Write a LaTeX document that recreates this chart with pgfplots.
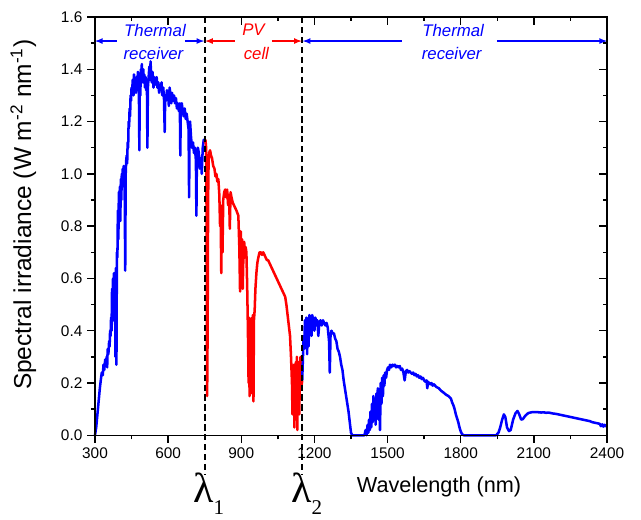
\documentclass[border=0pt]{standalone}
\usepackage{fontspec}
\setmainfont{Liberation Sans}
\newfontfamily\lamfont{Liberation Serif}
\usepackage{pgfplots}
\pgfplotsset{compat=1.18}

\begin{document}
\begin{tikzpicture}
\begin{axis}[
    name=main,
    width=366pt, height=299pt,
    scale only axis,
    xmin=300, xmax=2400, ymin=0, ymax=1.6,
    clip=false,
    axis line style={line width=1.1pt},
    xtick={300,600,...,2400},
    ytick={0,0.2,...,1.6},
    minor x tick num=1, minor y tick num=1,
    xtick pos=bottom, ytick pos=left,
    tick align=outside,
    major tick length=5.5pt, minor tick length=3pt,
    every tick/.style={black, line width=1.1pt},
    ticklabel style={font=\fontsize{11}{13}\selectfont},
    /pgf/number format/assume math mode=true,
    x tick label style={/pgf/number format/1000 sep={}},
    y tick label style={/pgf/number format/.cd, fixed, fixed zerofill, precision=1},
]
\path (rel axis cs:-0.1855,-0.1838) rectangle (rel axis cs:1.0664,1.0406);

% thermal receiver, short wavelengths
\addplot[blue, line width=1.8pt, line join=round] coordinates {
(300,0.00) (305,0.03) (310,0.08) (315,0.13) (320,0.18) (325,0.22) (328,0.24) (332,0.23)
(335,0.27) (338,0.25) (342,0.29) (345,0.28) (348,0.30) (350,0.26) (352,0.33) (355,0.31)
(358,0.36) (360,0.34) (362,0.40) (364,0.38) (366,0.45) (368,0.40) (370,0.56) (372,0.48)
(374,0.60) (376,0.44) (378,0.62) (380,0.50) (382,0.60) (384,0.30) (386,0.64) (388,0.27)
(390,0.70) (392,0.68) (394,0.86) (396,0.75) (398,0.93) (400,0.88) (402,0.95) (404,0.82)
(406,0.98) (408,0.90) (410,1.00) (412,0.95) (414,1.02) (416,0.98) (418,1.03) (420,0.99)
(422,0.92) (424,0.63) (426,1.00) (428,1.05) (430,1.07) (432,1.04) (434,1.12) (436,1.10)
(438,1.20) (440,1.18) (442,1.25) (444,1.22) (446,1.30) (448,1.28) (450,1.33) (452,1.31)
(455,1.36) (458,1.30) (460,1.38) (462,1.33) (465,1.36) (468,1.31) (470,1.37) (473,1.32)
(476,1.39) (478,1.35) (480,1.34) (482,1.09) (484,1.36) (486,1.30) (488,1.40) (490,1.36)
(492,1.42) (494,1.38) (496,1.35) (498,1.40) (500,1.36) (502,1.38) (505,1.33) (508,1.37)
(510,1.32) (513,1.35) (515,1.10) (517,1.33) (520,1.37) (523,1.41) (526,1.36) (528,1.43)
(530,1.38) (533,1.35) (536,1.39) (540,1.33) (543,1.37) (546,1.34) (550,1.36) (553,1.37)
(556,1.33) (560,1.35) (563,1.31) (566,1.34) (570,1.32) (573,1.35) (576,1.30) (580,1.33)
(583,1.29) (586,1.16) (588,1.30) (592,1.28) (595,1.32) (598,1.29) (600,1.30) (603,1.26)
(606,1.33) (610,1.30) (613,1.27) (616,1.31) (620,1.28) (624,1.30) (628,1.27) (632,1.29)
(636,1.25) (640,1.27) (644,1.24) (648,1.27) (650,1.07) (652,1.26) (656,1.27) (660,1.24)
(664,1.22) (668,1.25) (672,1.21) (676,1.23) (680,1.20) (684,1.17) (686,0.91) (688,1.15)
(690,1.20) (694,1.14) (698,1.10) (702,1.12) (706,1.08) (710,1.10) (714,1.05) (716,0.84)
(718,1.06) (722,1.10) (726,1.08) (730,1.02) (734,1.06) (738,1.00) (742,1.10) (746,1.13)
(750,1.12)
};

% PV cell
\addplot[red, line width=1.8pt, line join=round] coordinates {
(750,1.12) (753,1.13) (756,1.10) (758,0.80) (760,0.15) (762,0.40) (764,0.90) (766,1.05)
(768,1.08) (772,1.09) (776,1.07) (780,1.06) (785,1.03) (790,1.02) (794,0.99) (798,1.00)
(802,0.97) (806,0.98) (810,0.92) (813,0.80) (815,0.88) (818,0.62) (820,0.85) (823,0.70)
(826,0.90) (830,0.93) (834,0.94) (838,0.91) (842,0.94) (846,0.88) (850,0.92) (853,0.79)
(856,0.93) (860,0.91) (865,0.89) (870,0.88) (875,0.87) (880,0.86) (884,0.85) (888,0.84)
(892,0.72) (895,0.55) (898,0.78) (900,0.62) (903,0.75) (906,0.56) (909,0.70) (912,0.74)
(915,0.68) (918,0.72) (921,0.70) (924,0.58) (927,0.42) (930,0.20) (932,0.45) (934,0.15)
(936,0.30) (938,0.43) (940,0.16) (942,0.40) (944,0.45) (946,0.30) (948,0.46) (950,0.13)
(952,0.44) (955,0.48) (958,0.56) (962,0.62) (966,0.66) (970,0.68) (975,0.70) (980,0.70)
(985,0.69) (990,0.70) (995,0.69) (1000,0.68) (1005,0.67) (1010,0.67) (1015,0.66) (1020,0.65)
(1025,0.64) (1030,0.63) (1035,0.62) (1040,0.61) (1045,0.60) (1050,0.59) (1055,0.58) (1060,0.57)
(1065,0.56) (1070,0.55) (1075,0.54) (1080,0.53) (1085,0.50) (1090,0.46) (1095,0.42) (1100,0.38)
(1104,0.30) (1108,0.20) (1110,0.08) (1112,0.25) (1114,0.12) (1116,0.27) (1118,0.03) (1120,0.24)
(1122,0.06) (1124,0.28) (1126,0.10) (1128,0.30) (1130,0.02) (1132,0.26) (1134,0.15) (1136,0.28)
(1138,0.08) (1140,0.22) (1143,0.30) (1146,0.18) (1150,0.21)
};

% thermal receiver, long wavelengths
\addplot[blue, line width=1.8pt, line join=round] coordinates {
(1150,0.21) (1153,0.30) (1156,0.38) (1158,0.33) (1161,0.44) (1164,0.36) (1167,0.45) (1170,0.31)
(1173,0.43) (1176,0.34) (1179,0.46) (1182,0.40) (1185,0.45) (1188,0.38) (1191,0.46) (1194,0.42)
(1197,0.45) (1200,0.40) (1204,0.45) (1208,0.43) (1212,0.44) (1216,0.38) (1220,0.43) (1225,0.44)
(1230,0.42) (1235,0.44) (1240,0.43) (1245,0.42) (1250,0.43) (1255,0.41) (1260,0.36) (1263,0.24)
(1266,0.38) (1270,0.40) (1275,0.39) (1280,0.39) (1285,0.37) (1290,0.36) (1295,0.33) (1300,0.32)
(1305,0.30) (1310,0.27) (1315,0.25) (1320,0.21) (1325,0.18) (1330,0.15) (1335,0.12) (1340,0.09)
(1345,0.05) (1350,0.01) (1355,0.00) (1405,0.00) (1410,0.02) (1414,0.00) (1418,0.04) (1421,0.01)
(1424,0.06) (1427,0.02) (1430,0.09) (1433,0.03) (1436,0.12) (1439,0.05) (1442,0.15) (1445,0.07)
(1448,0.13) (1451,0.04) (1454,0.16) (1457,0.10) (1460,0.18) (1463,0.06) (1466,0.17) (1469,0.02)
(1472,0.20) (1475,0.12) (1478,0.22) (1481,0.15) (1484,0.23) (1487,0.19) (1490,0.24) (1494,0.22)
(1498,0.25) (1502,0.26) (1506,0.25) (1510,0.27) (1515,0.26) (1520,0.27) (1525,0.265) (1530,0.27)
(1535,0.26) (1540,0.265) (1545,0.26) (1550,0.265) (1555,0.25) (1560,0.255) (1565,0.24) (1570,0.21)
(1575,0.245) (1580,0.25) (1585,0.24) (1590,0.245) (1595,0.24) (1600,0.235) (1605,0.24) (1610,0.23)
(1615,0.235) (1620,0.225) (1625,0.23) (1630,0.22) (1635,0.225) (1640,0.215) (1645,0.22) (1650,0.21)
(1655,0.205) (1660,0.21) (1663,0.18) (1666,0.205) (1670,0.20) (1675,0.195) (1680,0.20) (1685,0.19)
(1690,0.195) (1700,0.185) (1710,0.18) (1720,0.17) (1730,0.163) (1740,0.155) (1750,0.15) (1760,0.14)
(1765,0.125) (1770,0.115) (1775,0.10) (1780,0.08) (1785,0.065) (1790,0.05) (1795,0.03) (1800,0.015)
(1805,0.005) (1812,0.00) (1945,0.00) (1955,0.01) (1962,0.03) (1970,0.06) (1977,0.08) (1983,0.07)
(1990,0.03) (1998,0.016) (2005,0.02) (2015,0.06) (2025,0.085) (2033,0.093) (2040,0.08) (2048,0.06)
(2055,0.062) (2065,0.075) (2077,0.085) (2090,0.088) (2105,0.089) (2120,0.088) (2130,0.087) (2140,0.088)
(2150,0.086) (2160,0.087) (2170,0.085) (2180,0.083) (2190,0.082) (2200,0.08) (2210,0.078) (2220,0.076)
(2230,0.074) (2240,0.072) (2250,0.07) (2260,0.068) (2270,0.066) (2280,0.064) (2290,0.062) (2300,0.06)
(2310,0.058) (2320,0.056) (2330,0.054) (2340,0.05) (2350,0.048) (2360,0.046) (2370,0.044) (2375,0.035)
(2380,0.042) (2385,0.033) (2390,0.04) (2395,0.035) (2400,0.04)
};

% cut-off wavelengths
\draw[black, line width=1.4pt, dash pattern=on 4.5pt off 2.6pt] (axis cs:750,1.6) -- (axis cs:750,-0.15);
\draw[black, line width=1.4pt, dash pattern=on 4.5pt off 2.6pt] (axis cs:1150,1.6) -- (axis cs:1150,-0.15);

% band arrows
\draw[blue, line width=0.9pt, -latex] (axis cs:389,1.508) -- (axis cs:300,1.508);
\draw[blue, line width=0.9pt, -latex] (axis cs:669,1.508) -- (axis cs:748,1.508);
\draw[red, line width=0.9pt, -latex] (axis cs:874,1.508) -- (axis cs:752,1.508);
\draw[red, line width=0.9pt, -latex] (axis cs:1025,1.508) -- (axis cs:1148,1.508);
\draw[blue, line width=0.9pt, -latex] (axis cs:1558,1.508) -- (axis cs:1152,1.508);
\draw[blue, line width=0.9pt, -latex] (axis cs:1948,1.508) -- (axis cs:2400,1.508);

\node[blue, font=\fontsize{12}{14}\selectfont\itshape] at (axis cs:546,1.55) {Thermal};
\node[blue, font=\fontsize{12}{14}\selectfont\itshape] at (axis cs:540,1.46) {receiver};
\node[red, font=\fontsize{12}{14}\selectfont\itshape] at (axis cs:950,1.55) {PV};
\node[red, font=\fontsize{12}{14}\selectfont\itshape] at (axis cs:962,1.46) {cell};
\node[blue, font=\fontsize{12}{14}\selectfont\itshape] at (axis cs:1769,1.55) {Thermal};
\node[blue, font=\fontsize{12}{14}\selectfont\itshape] at (axis cs:1763,1.46) {receiver};

% axis labels
\node[rotate=90, font=\fontsize{17.5}{19}\selectfont] at (rel axis cs:-0.140,0.527)
  {Spectral irradiance (W m\textsuperscript{-2} nm\textsuperscript{-1})};
\node[font=\fontsize{15.5}{17}\selectfont] at (rel axis cs:0.672,-0.124) {Wavelength (nm)};
\node[anchor=base, font=\fontsize{30}{32}\selectfont\lamfont] at (rel axis cs:0.212,-0.160)
  {λ\rlap{\raisebox{-0.3em}{\fontsize{15}{17}\selectfont 1}}};
\node[anchor=base, font=\fontsize{30}{32}\selectfont\lamfont] at (rel axis cs:0.403,-0.160)
  {λ\rlap{\raisebox{-0.3em}{\fontsize{15}{17}\selectfont 2}}};
\end{axis}

% mirrored ticks on top and right
\begin{axis}[
    at={(main.south west)}, anchor=south west,
    width=366pt, height=299pt,
    scale only axis,
    xmin=300, xmax=2400, ymin=0, ymax=1.6,
    axis line style={line width=1.1pt},
    xtick={300,600,...,2400},
    ytick={0,0.2,...,1.6},
    minor x tick num=1, minor y tick num=1,
    xtick pos=right, ytick pos=right,
    tick align=inside,
    major tick length=5.5pt, minor tick length=3pt,
    every tick/.style={black, line width=1.1pt},
    xticklabels={}, yticklabels={},
]
\end{axis}
\end{tikzpicture}
\end{document}
